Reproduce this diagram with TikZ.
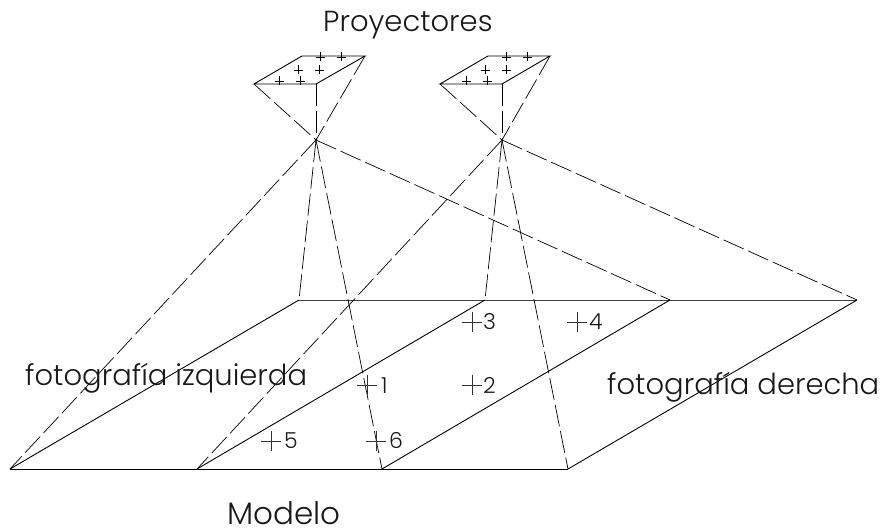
\documentclass[tikz,border=0pt]{standalone}
\usepackage{fontspec}
\setmainfont{Poppins}[UprightFont=* Light]
\tikzset{
  x=1pt,y=-1pt,
  solidline/.style={line width=0.9pt,black},
  greyline/.style={line width=0.9pt,black!75},
  dashline/.style={line width=0.7pt,black,dash pattern=on 22pt off 5pt},
  lbl/.style={font=\fontsize{29}{29}\selectfont,anchor=base west,inner sep=0pt,text=black!90},
  num/.style={font=\fontsize{22}{22}\selectfont,anchor=base west,inner sep=0pt,text=black!90},
  bigplus/.pic={\draw[line width=0.6pt,black!80] (-10,0)--(10,0) (0,-10)--(0,10);},
  smallplus/.pic={\draw[line width=0.8pt,black] (-4.5,0)--(4.5,0) (0,-4.5)--(0,4.5);},
}
\begin{document}
\begin{tikzpicture}
\useasboundingbox (0,0) rectangle (884,529);
% model plane corners
\coordinate (b1) at (10,469);
\coordinate (b2) at (197,469);
\coordinate (b3) at (382,469);
\coordinate (b4) at (568,469);
\coordinate (t1) at (299,300);
\coordinate (t2) at (485,300);
\coordinate (t3) at (670,300);
\coordinate (t4) at (857,300);
% projectors
\coordinate (la) at (254,84);
\coordinate (lb) at (316,84);
\coordinate (lc) at (365,56);
\coordinate (ld) at (302,56);
\coordinate (lo) at (316,140);
\coordinate (ra) at (440,84);
\coordinate (rb) at (502,84);
\coordinate (rc) at (550,56);
\coordinate (rd) at (488,56);
\coordinate (ro) at (502,140);
% planes
\draw[solidline] (b1)--(b4);
\draw[greyline] (t1)--(t4);
\draw[solidline] (b1)--(t1) (b2)--(t2) (b3)--(t3) (b4)--(t4);
% projector boxes
\draw[solidline] (la)--(lb)--(lc)--(ld)--cycle;
\draw[solidline] (ra)--(rb)--(rc)--(rd)--cycle;
% rays
\foreach \p in {la,lb,lc} \draw[dashline] (\p)--(lo);
\foreach \p in {ra,rb,rc} \draw[dashline] (\p)--(ro);
\foreach \p in {b1,b3,t1,t3} \draw[dashline] (lo)--(\p);
\foreach \p in {b2,b4,t2,t4} \draw[dashline] (ro)--(\p);
% small marks
\foreach \x/\y in {320/57,341/57,298/70,319/70,279/81,300/81,506/57,527/57,485/70,506/70,466/81,487/81}
  \pic at (\x,\y) {smallplus};
% control points
\foreach \x/\y in {367/385,472/385,472/322,577/322,271/441,376/441}
  \pic at (\x,\y) {bigplus};
\node[num] (n1) at (381,393) {1};
\node[num] (n2) at (483,393) {2};
\node[num] (n3) at (483,330) {3};
\node[num] (n4) at (589,330) {4};
\node[num] (n5) at (284,448) {5};
\node[num] (n6) at (389,448) {6};
% labels
\node[lbl] (proy) at (323,32) {Proyectores};
\node[lbl] (izq) at (25,386) {fotografía izquierda};
\node[lbl] (der) at (607,395) {fotografía derecha};
\node[lbl,font=\fontsize{31}{31}\selectfont] (mod) at (227,524) {\smash{Modelo}};
\end{tikzpicture}
\end{document}
